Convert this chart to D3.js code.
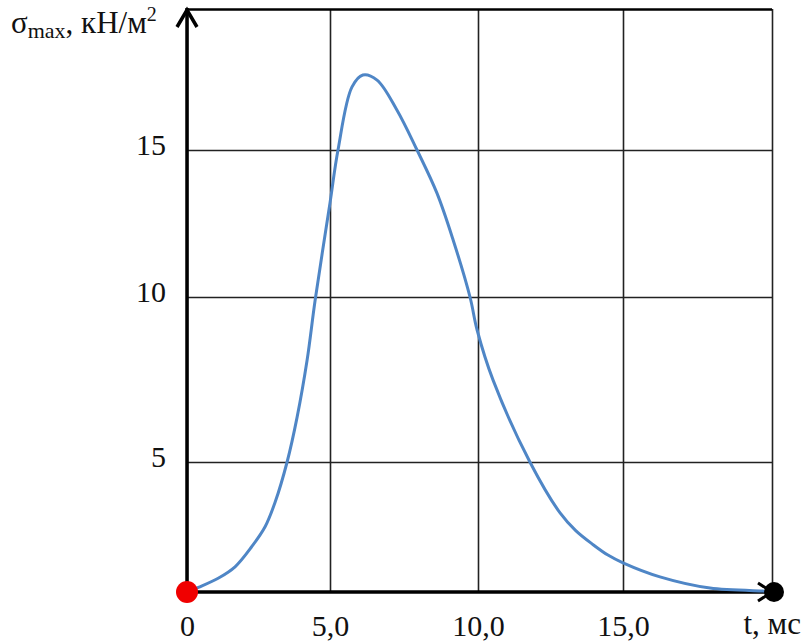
<!DOCTYPE html>
<html>
<head>
<meta charset="utf-8">
<script src="https://cdn.jsdelivr.net/npm/d3@7"></script>
<style>
  body { margin: 0; background: #fff; }
  svg text { font-family: "Liberation Serif", "DejaVu Serif", serif; fill: #111; }
</style>
</head>
<body>
<div id="chart"></div>
<script>
// sigma_max vs time curve

const tValues     = [0, 0.40, 1.09, 1.68, 2.26, 2.73, 3.08, 3.5, 3.85, 4.2, 4.48, 5.0, 5.27, 5.74, 6.11, 6.59, 7.26, 7.94, 8.61, 9.16, 9.73, 9.97, 10.52, 11.79, 12.83, 13.37, 13.97, 14.48, 15.0, 16.24, 17.92, 19.93, 20];
const sigmaValues = [0, 0.18, 0.53, 0.97, 1.74, 2.51, 3.45, 5.0, 6.36, 8.09, 9.9, 13.2, 15.0, 17.23, 17.66, 17.48, 16.42, 15.0, 13.54, 11.94, 10.0, 9.0, 7.48, 5.0, 3.04, 2.36, 1.82, 1.42, 1.12, 0.58, 0.15, 0.02, 0];

const xTicks = [0, 5, 10, 15, 20];
const xTickLabels = ["0", "5,0", "10,0", "15,0", ""];
const yTicks = [5, 10, 15, 20];
const yTickLabels = ["5", "10", "15", ""];

const W = 804, H = 643;

// grid in the source is not evenly spaced, so use piecewise scales
const x = d3.scaleLinear().domain([0, 5, 10, 15, 20]).range([187, 330, 478, 623, 772]);
const y = d3.scaleLinear().domain([0, 5, 10, 15, 20]).range([592, 462, 297, 150, 9]);

const svg = d3.select("#chart").append("svg")
  .attr("width", W)
  .attr("height", H);

// vertical grid + x labels
const gx = svg.append("g")
  .attr("transform", `translate(0,${y(0)})`)
  .call(d3.axisBottom(x).tickValues(xTicks)
    .tickSize(-(y(0) - y(20)))
    .tickFormat((d, i) => xTickLabels[i]));
gx.select(".domain").remove();
gx.selectAll("line").attr("stroke", "#222").attr("stroke-width", 1.6);
gx.selectAll("text")
  .attr("y", 44).attr("dy", 0)
  .attr("font-size", 30)
  .attr("font-family", "Liberation Serif, serif")
  .attr("fill", "#111");

// horizontal grid + y labels
const gy = svg.append("g")
  .attr("transform", `translate(${x(0)},0)`)
  .call(d3.axisLeft(y).tickValues(yTicks)
    .tickSize(-(x(20) - x(0)))
    .tickFormat((d, i) => yTickLabels[i]));
gy.select(".domain").remove();
gy.selectAll("line").attr("stroke", "#222").attr("stroke-width", 1.6);
gy.selectAll(".tick").filter(d => d === 20).select("line").attr("stroke-width", 2.6).attr("stroke", "#000");
gy.selectAll("text")
  .attr("x", -21).attr("dy", 4)
  .attr("text-anchor", "end")
  .attr("font-size", 30)
  .attr("font-family", "Liberation Serif, serif")
  .attr("fill", "#111");

// main axes (thick)
svg.append("line")
  .attr("x1", x(0)).attr("x2", x(20))
  .attr("y1", y(0)).attr("y2", y(0))
  .attr("stroke", "#000").attr("stroke-width", 3.5);
svg.append("line")
  .attr("x1", x(0)).attr("x2", x(0))
  .attr("y1", y(0)).attr("y2", y(20) - 1)
  .attr("stroke", "#000").attr("stroke-width", 3.5);

// arrow on y axis
svg.append("path")
  .attr("d", `M${x(0) - 10},${y(20) + 18} L${x(0)},${y(20) + 1} L${x(0) + 10},${y(20) + 18}`)
  .attr("fill", "none").attr("stroke", "#000").attr("stroke-width", 3.5);

// arrow on x axis (mostly covered by the end dot)
svg.append("path")
  .attr("d", `M${x(20) - 14},${y(0) - 9} L${x(20)},${y(0)} L${x(20) - 14},${y(0) + 9}`)
  .attr("fill", "none").attr("stroke", "#000").attr("stroke-width", 3);

// curve
const line = d3.line()
  .x((d, i) => x(tValues[i]))
  .y(d => y(d))
  .curve(d3.curveCatmullRom.alpha(0.5));

svg.append("path")
  .datum(sigmaValues)
  .attr("d", line)
  .attr("fill", "none")
  .attr("stroke", "#4f86c6")
  .attr("stroke-width", 3);

// end points
svg.append("circle")
  .attr("cx", x(0)).attr("cy", y(0)).attr("r", 11)
  .attr("fill", "#f00000");
svg.append("circle")
  .attr("cx", x(20) + 2).attr("cy", y(0)).attr("r", 10)
  .attr("fill", "#000");

// axis titles
const yt = svg.append("text")
  .attr("x", 11).attr("y", 33)
  .attr("font-size", 31);
yt.append("tspan").text("σ");
yt.append("tspan").attr("font-size", 22).attr("dy", 5).text("max");
yt.append("tspan").attr("dy", -5).text(", кН/м");
yt.append("tspan").attr("font-size", 20).attr("dy", -12).text("2");

svg.append("text")
  .attr("x", 801).attr("y", 634)
  .attr("text-anchor", "end")
  .attr("font-size", 31)
  .text("t, мс");
</script>
</body>
</html>
